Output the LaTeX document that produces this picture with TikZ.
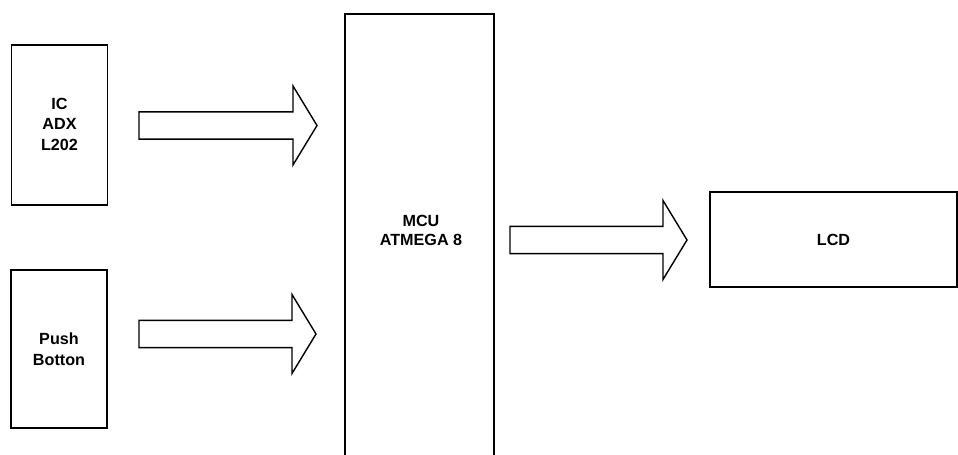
\documentclass[tikz,border=0pt]{standalone}
\usepackage{fontspec}
\setmainfont{Liberation Sans}
\usetikzlibrary{calc}

% fat block arrow between two named coordinates
\newcommand{\blockarrow}[2]{%
  \draw[barrow] ($(#1)+(0,-13.6)$) -- ($(#2)+(-24,-13.6)$) -- ($(#2)+(-24,-39.5)$)
    -- (#2) -- ($(#2)+(-24,39.5)$) -- ($(#2)+(-24,13.6)$) -- ($(#1)+(0,13.6)$) -- cycle;}

\begin{document}
\begin{tikzpicture}[
  x=0.02cm, y=-0.02cm,
  box/.style={draw=black,line width=1.0pt,fill=white,inner sep=0pt},
  lbl/.style={font=\bfseries\fontsize{9.2}{11.7}\selectfont,align=center},
  barrow/.style={draw=black,line width=0.8pt,fill=white,line join=miter},
]
\useasboundingbox (0,0) rectangle (958,455);

% ---- blocks -------------------------------------------------------------
\node[box,minimum width=1.92cm,minimum height=3.2cm]  (ic)   at (59.5,125)   {};
\node[box,minimum width=1.92cm,minimum height=3.17cm] (push) at (59,349)     {};
\node[box,minimum width=2.99cm,minimum height=9.04cm] (mcu)  at (419.5,240)  {};
\node[box,minimum width=4.94cm,minimum height=1.91cm] (lcd)  at (833.5,239.5) {};

% ---- block texts --------------------------------------------------------
\node[lbl] (ictxt)   at (59.5,124)    {IC\\ADX\\L202};
\node[lbl] (pushtxt) at (push)        {Push\\Botton};
\node[lbl,font=\bfseries\fontsize{9.2}{10.6}\selectfont] (mcutxt) at (421,230.5) {MCU\\ATMEGA 8};
\node[lbl] (lcdtxt)  at (lcd)         {LCD};

% ---- arrow ends ---------------------------------------------------------
\coordinate (a1s) at (139,125.5);  \coordinate (a1e) at (317,125.5);
\coordinate (a2s) at (139,334);    \coordinate (a2e) at (316,334);
\coordinate (a3s) at (510,240);    \coordinate (a3e) at (687,240);

\blockarrow{a1s}{a1e}
\blockarrow{a2s}{a2e}
\blockarrow{a3s}{a3e}

\end{tikzpicture}
\end{document}
